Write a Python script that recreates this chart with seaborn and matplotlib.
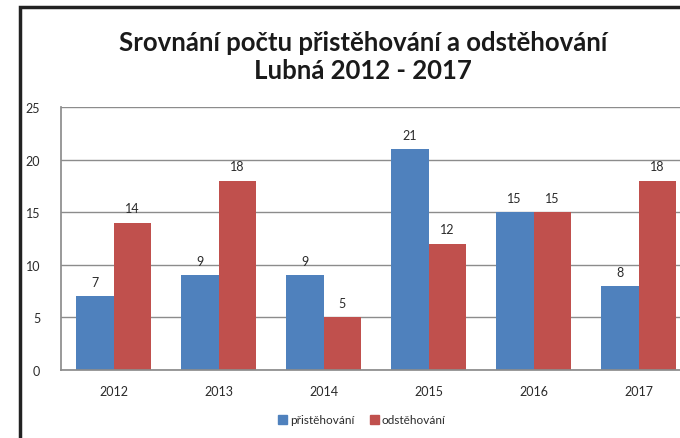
import pandas as pd
import seaborn as sns
import matplotlib.pyplot as plt
from matplotlib.patches import Rectangle

# DATA
years = ["2012", "2013", "2014", "2015", "2016", "2017"]
prist = [7, 9, 9, 21, 15, 8]
odst = [14, 18, 5, 12, 15, 18]
series_names = ["přistěhování", "odstěhování"]
colors = ["#4F81BD", "#C0504D"]

df = pd.DataFrame({
    "rok": years * 2,
    "pocet": prist + odst,
    "typ": [series_names[0]] * len(years) + [series_names[1]] * len(years),
})

sns.set_theme(style="white")
plt.rcParams["font.family"] = ["Lato", "DejaVu Sans"]

fig = plt.figure(figsize=(6.8, 4.39), dpi=100)
ax = fig.add_axes([61 / 680, 1 - 371 / 439, 630 / 680, (371 - 108) / 439])

sns.barplot(data=df, x="rok", y="pocet", hue="typ", palette=colors,
            width=0.72, saturation=1, linewidth=0, ax=ax, legend=False)

# LABELS ABOVE BARS
for c in ax.containers:
    ax.bar_label(c, padding=6, fontsize=9, color="#2a2a2a")

ax.set_ylim(0, 25)
ax.set_yticks([0, 5, 10, 15, 20, 25])
ax.yaxis.grid(True, color="#8c8c8c", linewidth=1)
ax.set_axisbelow(True)
ax.set_xlabel("")
ax.set_ylabel("")
ax.tick_params(axis="both", labelsize=9, colors="#2a2a2a", length=0)
ax.tick_params(axis="x", pad=11)
ax.tick_params(axis="y", pad=15)
for s in ["top", "right"]:
    ax.spines[s].set_visible(False)
for s in ["left", "bottom"]:
    ax.spines[s].set_color("#8c8c8c")

# TITLE
fig.text(363 / 680, 1 - 57 / 439, "Srovnání počtu přistěhování a odstěhování\nLubná 2012 - 2017",
         ha="center", va="center", fontsize=18.5, fontweight="bold", color="#1a1a1a",
         linespacing=1.2)

# LEGEND
handles = [Rectangle((0, 0), 1, 1, color=c) for c in colors]
fig.legend(handles, series_names, loc="center", bbox_to_anchor=(362 / 680, 1 - 421 / 439),
           ncol=2, frameon=False, fontsize=8.5, handlelength=0.75, handleheight=0.75,
           handletextpad=0.25, columnspacing=1.3, labelcolor="#2a2a2a")

# OUTER FRAME
fig.patches.append(Rectangle((20 / 680, -0.1), 1.2, 1 - 8 / 439 + 0.1, transform=fig.transFigure,
                             fill=False, edgecolor="#222222", linewidth=2.5))

fig.savefig("out.png", dpi=100)
